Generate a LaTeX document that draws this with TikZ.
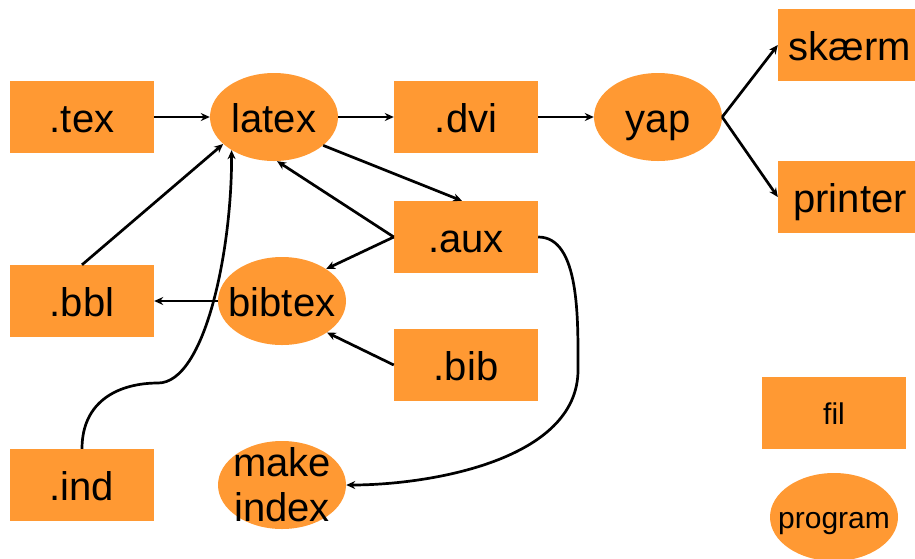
\documentclass[tikz,border=0pt]{standalone}
\usepackage{fontspec}
\setmainfont{Liberation Sans}
\usetikzlibrary{shapes.geometric,arrows.meta}

\definecolor{orangefill}{RGB}{255,153,51}

\tikzset{
	filbox/.style={rectangle,fill=orangefill,minimum width=144pt,minimum height=72pt,inner sep=0pt,text height=32pt,text depth=2pt,font=\fontsize{40}{45}\selectfont},
	progell/.style={ellipse,fill=orangefill,minimum width=128pt,minimum height=88pt,inner xsep=-20pt,inner ysep=-20pt,text height=32pt,text depth=2pt,font=\fontsize{40}{45}\selectfont},
	pil/.style={->,>={Stealth[length=9pt,width=8pt]},line width=2.7pt}
}

\begin{document}
\begin{tikzpicture}[x=1pt,y=-1pt]
	\useasboundingbox (0,0) rectangle (915,558);

	% filer og programmer
	\node[filbox] (tex) at (82,117) {.tex};
	\node[progell] (latex) at (274,117) {latex};
	\node[filbox] (dvi) at (466,117) {.dvi};
	\node[progell] (yap) at (658,117) {yap};
	\node[filbox] (skaerm) at (850,45) {skærm};
	\node[filbox] (printer) at (850,197) {printer};
	\node[filbox] (aux) at (466,237) {.aux};
	\node[progell] (bibtex) at (282,301) {bibtex};
	\node[filbox] (bbl) at (82,301) {.bbl};
	\node[filbox] (bib) at (466,365) {.bib};
	\node[filbox] (ind) at (82,485) {.ind};
	\node[progell,align=center,text height=,text depth=] (makeindex) at (282,485) {make\\index};

	% forklaring
	\node[filbox,font=\fontsize{30}{34}\selectfont,text height=22pt,text depth=0pt] (legfil) at (834,413) {fil};
	\node[progell,font=\fontsize{30}{34}\selectfont,text height=22pt,text depth=0pt] (legprog) at (834,517) {program};

	% pile
	\draw[pil] (tex) -- (latex);
	\draw[pil] (latex) -- (dvi);
	\draw[pil] (dvi) -- (yap);
	\draw[pil] (yap.east) -- (skaerm.west);
	\draw[pil] (yap.east) -- (printer.west);
	\draw[pil] (latex.-30) -- ([xshift=-4pt]aux.north);
	\draw[pil] (aux.west) -- (latex.-86);
	\draw[pil] (aux.west) -- (bibtex.36);
	\draw[pil] (bib.west) -- (bibtex.-35);
	\draw[pil] (bibtex) -- (bbl);
	\draw[pil] (bbl.north) -- (latex.-152);
	%% kurver
	\draw[pil] (ind.north) .. controls (82,400) and (120,383) .. (158,383)
		.. controls (205,383) and (232,250) .. (latex.-142);
	\draw[pil] (aux.east) .. controls (580,237) and (578,320) .. (578,370)
		.. controls (578,460) and (430,485) .. (makeindex.east);
\end{tikzpicture}
\end{document}
